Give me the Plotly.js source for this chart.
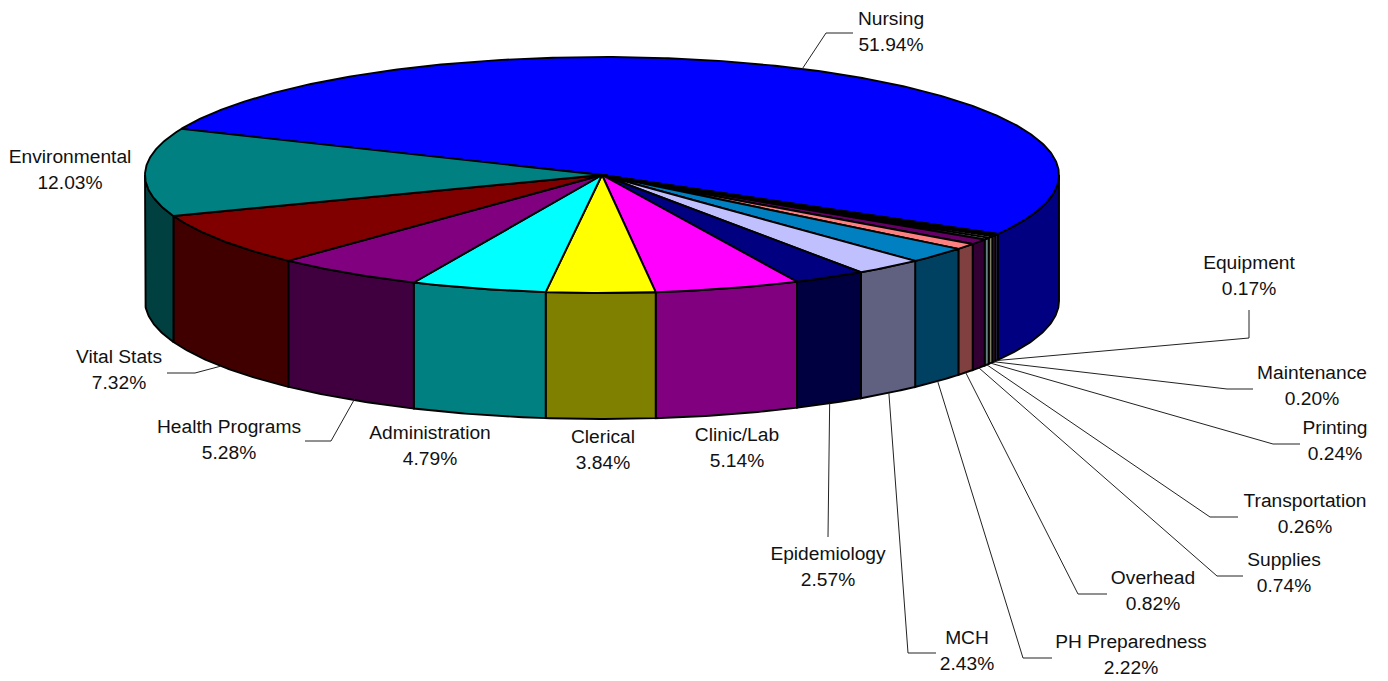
<!DOCTYPE html>
<html>
<head>
<meta charset="utf-8">
<script src="https://cdn.plot.ly/plotly-3.0.1.min.js"></script>
<style>html,body{margin:0;padding:0;background:#fff}#chart{width:1388px;height:681px}</style>
</head>
<body>
<div id="chart"></div>
<script>
// Data, clockwise from the Nursing slice
const categories = ["Nursing","Equipment","Maintenance","Printing","Transportation","Supplies","Overhead","PH Preparedness","MCH","Epidemiology","Clinic/Lab","Clerical","Administration","Health Programs","Vital Stats","Environmental"];
const percents = [51.94,0.17,0.20,0.24,0.26,0.74,0.82,2.22,2.43,2.57,5.14,3.84,4.79,5.28,7.32,12.03];
const topColors = ["#0000FF","#9999FF","#993366","#FFFFCC","#CCFFFF","#660066","#FF8080","#0080C0","#C0C0FF","#000080","#FF00FF","#FFFF00","#00FFFF","#800080","#800000","#008080"];
const sideColors = ["#000080","#4D4D80","#4D1A33","#808066","#668080","#330033","#804040","#004060","#606080","#000040","#800080","#808000","#008080","#400040","#400000","#004040"];

// Label layout (page pixels)
const labelX = [891,1249,1312,1335,1305,1284,1153,1131,967,828,737,603,430,229,119,70];
const labelY = [20,264,374,429,502,561,579,643,639,555,436,438,434,428,358,158];
const lineGap = 26;
// Leader routes: elbow then end, null where the label has no leader
const leaderElbowX = [826,1249,1227,1273,1210,1217,1078,1023,908,null,null,null,null,331,195,null];
const leaderElbowY = [33,338,389,444,517,576,594,658,653,null,null,null,null,441,373,null];
const leaderEndX = [853,1249,1253,1300,1238,1243,1107,1052,936,828,null,null,null,305,167,null];
const leaderEndY = [33,310,389,444,517,576,594,658,653,537,null,null,null,441,373,null];
const leaderAnchorShift = [-4,0,0,0,0,0,0,0,0,0,0,0,0,7,0,0];

// Pie geometry
const cx = 602, cy = 175, rx = 457, ry = 118, depth = 126, startDeg = -157;
const rad = d => d * Math.PI / 180;
const px = d => cx + rx * Math.cos(rad(d));
const py = (d, dz) => cy + ry * Math.sin(rad(d)) + (dz || 0);

const total = percents.reduce((a, b) => a + b, 0);
let cum = 0;
const slices = percents.map(p => {
  const a0 = startDeg + cum / total * 360;
  cum += p;
  return [a0, startDeg + cum / total * 360];
});

function arc(a0, a1, dz) {
  const n = Math.max(2, Math.ceil(Math.abs(a1 - a0) * 2));
  const xs = [], ys = [];
  for (let i = 0; i <= n; i++) {
    const d = a0 + (a1 - a0) * i / n;
    xs.push(px(d)); ys.push(py(d, dz));
  }
  return [xs, ys];
}

const traces = [];
const OUT = {color: "#000", width: 1.9};

// Side walls: only the part of each slice on the front half (0..180 deg)
slices.forEach(([a0, a1], i) => {
  const pieces = [[a0, a1], [a0 - 360, a1 - 360], [a0 + 360, a1 + 360]];
  pieces.forEach(([s, e]) => {
    const lo = Math.max(s, 0), hi = Math.min(e, 180);
    if (hi <= lo) return;
    const [tx, ty] = arc(lo, hi, 0);
    const [bx, by] = arc(hi, lo, depth);
    traces.push({type: "scatter", mode: "lines", x: tx.concat(bx, [tx[0]]), y: ty.concat(by, [ty[0]]),
      fill: "toself", fillcolor: sideColors[i], line: OUT, hoverinfo: "skip", showlegend: false});
  });
});

// Top faces
slices.forEach(([a0, a1], i) => {
  const [tx, ty] = arc(a0, a1, 0);
  traces.push({type: "scatter", mode: "lines", x: [cx].concat(tx, [cx]), y: [cy].concat(ty, [cy]),
    fill: "toself", fillcolor: topColors[i], line: OUT, hoverinfo: "skip", showlegend: false});
});

// Leader lines, starting on the rim at each slice's middle angle
categories.forEach((c, i) => {
  if (leaderEndX[i] === null) return;
  const mid = (slices[i][0] + slices[i][1]) / 2;
  const dz = i === 0 ? 0 : depth;
  const xs = [px(mid) + leaderAnchorShift[i]], ys = [py(mid, dz)];
  if (leaderElbowX[i] !== null) { xs.push(leaderElbowX[i]); ys.push(leaderElbowY[i]); }
  xs.push(leaderEndX[i]); ys.push(leaderEndY[i]);
  traces.push({type: "scatter", mode: "lines", x: xs, y: ys, line: {color: "#222", width: 1}, hoverinfo: "skip", showlegend: false});
});

const FONT = {family: "'Liberation Sans', Arial, sans-serif", size: 19.2, color: "#111"};
traces.push({type: "scatter", mode: "text", x: labelX, y: labelY, text: categories, textposition: "middle center",
  textfont: FONT, hoverinfo: "skip", showlegend: false, cliponaxis: false});
traces.push({type: "scatter", mode: "text", x: labelX, y: labelY.map(v => v + lineGap),
  text: percents.map(v => v.toFixed(2) + "%"), textposition: "middle center",
  textfont: FONT, hoverinfo: "skip", showlegend: false, cliponaxis: false});

const axis = {visible: false, fixedrange: true, zeroline: false, showgrid: false};
Plotly.newPlot("chart", traces, {
  width: 1388, height: 681, margin: {l: 0, r: 0, t: 0, b: 0},
  paper_bgcolor: "#fff", plot_bgcolor: "#fff", showlegend: false,
  xaxis: Object.assign({range: [0, 1388]}, axis),
  yaxis: Object.assign({range: [681, 0]}, axis)
}, {displayModeBar: false, staticPlot: true});
</script>
</body>
</html>
